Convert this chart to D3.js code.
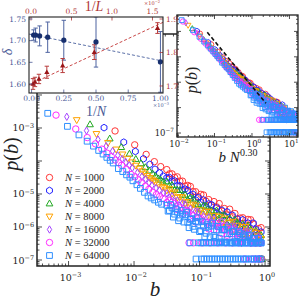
<!DOCTYPE html>
<html><head><meta charset="utf-8">
<script src="https://cdn.jsdelivr.net/npm/d3@7"></script>
<style>body{margin:0;background:#fff}svg{display:block}</style>
</head><body><svg id="c" width="300" height="300"></svg>
<script>
// ================= DATA (log10 values) =================
const sizes = [1000, 2000, 4000, 8000, 16000, 32000, 64000];
const sizeLabels = ["1000", "2000", "4000", "8000", "16000", "32000", "64000"];
const collapseExponent = 0.30;

// shared b positions (log10 b) of the dense part of every histogram
const denseLogB = [-1.50,-1.46,-1.42,-1.38,-1.34,-1.30,-1.26,-1.22,-1.18,-1.14,-1.10,-1.06,-1.02,-0.98,-0.94,-0.90,-0.86,-0.82,-0.78,-0.74,-0.70,-0.66,-0.62,-0.58,-0.54,-0.50,-0.46,-0.42,-0.38,-0.34,-0.30,-0.26,-0.22,-0.18,-0.14,-0.10,-0.06];
const denseLogB2 = [-1.48,-1.44,-1.40,-1.36,-1.32,-1.28,-1.24,-1.20,-1.16,-1.12,-1.08,-1.04,-1.00,-0.96,-0.92,-0.88,-0.84,-0.80,-0.76,-0.72,-0.68,-0.64,-0.60,-0.56,-0.52,-0.48,-0.44,-0.40,-0.36,-0.32,-0.28,-0.24,-0.20,-0.16,-0.12,-0.08];
// single-count floor levels (log10 p)
const floorLogP = [-6.97, -6.48];

// N = 1000
const leadLogB_1000 = [-2.29,-1.99,-1.815,-1.69,-1.593];
const leadLogP_1000 = [-3.09,-3.51,-3.80,-4.02,-4.17];
const denseLogP_1000 = [-4.26,-4.39,-4.39,-4.50,-4.48,-4.61,-4.61,-4.76,-4.74,-4.77,-4.93,-4.93,-5.08,-5.01,-5.03,-5.22,-5.17,-5.34,-5.23,-5.39,-5.29,-5.52,-5.44,-5.64,-5.46,-5.69,-5.59,-5.85,-5.73,-5.72,-5.97,-5.77,-5.78,-5.91,-6.18,-6.05,-6.02];
const floorLowLogB_1000 = [-0.05];
const floorHighLogB_1000 = [];
// N = 2000
const leadLogB_2000 = [-2.458,-2.157,-1.98,-1.856,-1.759,-1.68,-1.612,-1.554];
const leadLogP_2000 = [-2.99,-3.43,-3.71,-3.93,-4.10,-4.25,-4.36,-4.46];
const denseLogP_2000 = [-4.51,-4.50,-4.61,-4.60,-4.75,-4.75,-4.88,-4.85,-4.89,-5.05,-5.01,-5.18,-5.11,-5.25,-5.18,-5.39,-5.30,-5.32,-5.53,-5.42,-5.62,-5.49,-5.66,-5.54,-5.79,-5.64,-5.90,-5.76,-5.97,-5.78,-6.03,-5.88,-6.18,-5.88,-6.07,-6.27,-6.15];
const floorLowLogB_2000 = [];
const floorHighLogB_2000 = [-0.07];
// N = 4000
const leadLogB_4000 = [-2.672,-2.371,-2.195,-2.07,-1.973,-1.894,-1.827,-1.769,-1.718,-1.672,-1.63,-1.593,-1.558];
const leadLogP_4000 = [-2.89,-3.32,-3.58,-3.78,-3.94,-4.07,-4.19,-4.29,-4.38,-4.46,-4.53,-4.57,-4.63];
const denseLogP_4000 = [-4.62,-4.74,-4.73,-4.88,-4.87,-4.88,-5.04,-5.02,-5.18,-5.11,-5.14,-5.32,-5.30,-5.47,-5.35,-5.36,-5.56,-5.50,-5.68,-5.50,-5.73,-5.65,-5.64,-5.90,-5.73,-5.99,-5.78,-5.87,-6.10,-5.91,-6.21,-5.96,-6.08,-6.32,-6.11,-6.45,-6.25];
const floorLowLogB_4000 = [-0.08,-0.05];
const floorHighLogB_4000 = [-0.09];
// N = 8000
const leadLogB_8000 = [-2.875,-2.574,-2.398,-2.273,-2.176,-2.097,-2.03,-1.972,-1.921,-1.875,-1.834,-1.796,-1.761,-1.729,-1.699,-1.671,-1.62,-1.574,-1.533];
const leadLogP_8000 = [-2.76,-3.18,-3.45,-3.65,-3.80,-3.93,-4.04,-4.14,-4.23,-4.31,-4.38,-4.45,-4.51,-4.56,-4.60,-4.64,-4.71,-4.78,-4.82];
const denseLogP_8000 = [-4.89,-4.85,-4.99,-4.95,-5.11,-5.09,-5.10,-5.28,-5.24,-5.41,-5.32,-5.35,-5.56,-5.49,-5.68,-5.53,-5.54,-5.77,-5.66,-5.88,-5.69,-5.91,-5.74,-6.01,-5.87,-5.84,-6.14,-5.96,-6.23,-6.00,-6.00,-6.33,-6.13,-6.44,-6.17,-6.28,-6.36];
const floorLowLogB_8000 = [-0.10,-0.06];
const floorHighLogB_8000 = [-0.12,-0.07];
// N = 16000
const leadLogB_16000 = [-3.027,-2.726,-2.55,-2.425,-2.328,-2.249,-2.182,-2.124,-2.073,-2.027,-1.948,-1.881,-1.823,-1.772,-1.726,-1.665,-1.612,-1.55];
const leadLogP_16000 = [-2.66,-3.08,-3.35,-3.55,-3.70,-3.83,-3.94,-4.04,-4.13,-4.21,-4.35,-4.47,-4.55,-4.66,-4.74,-4.82,-4.89,-4.97];
const denseLogP_16000 = [-4.98,-5.11,-5.07,-5.23,-5.20,-5.35,-5.28,-5.31,-5.50,-5.45,-5.63,-5.52,-5.54,-5.77,-5.67,-5.87,-5.70,-5.89,-5.74,-5.99,-5.86,-5.83,-6.11,-5.95,-6.20,-5.98,-5.98,-6.29,-6.12,-6.39,-6.14,-6.13,-6.48,-6.26,-6.48,-6.29,-6.45];
const floorLowLogB_16000 = [-0.15,-0.09];
const floorHighLogB_16000 = [-0.36,-0.20,-0.08];
// N = 32000
const leadLogB_32000 = [-3.191,-2.89,-2.714,-2.589,-2.492,-2.413,-2.346,-2.288,-2.237,-2.191,-2.112,-2.045,-1.987,-1.936,-1.89,-1.829,-1.776,-1.714,-1.66,-1.611,-1.558];
const leadLogP_32000 = [-2.61,-3.03,-3.29,-3.48,-3.64,-3.76,-3.87,-3.97,-4.05,-4.13,-4.26,-4.41,-4.48,-4.57,-4.66,-4.77,-4.86,-4.95,-5.02,-5.08,-5.14];
const denseLogP_32000 = [-5.26,-5.20,-5.35,-5.29,-5.47,-5.42,-5.59,-5.50,-5.52,-5.73,-5.66,-5.85,-5.72,-5.74,-5.97,-5.85,-6.06,-5.87,-6.08,-5.90,-5.99,-6.20,-5.98,-6.25,-6.10,-6.06,-6.37,-6.18,-6.15,-6.46,-6.25,-6.22,-6.48,-6.36,-6.48,-6.37,-6.48];
const floorLowLogB_32000 = [-0.31,-0.19,-0.11,-0.07];
const floorHighLogB_32000 = [-1.16,-1.09,-0.96,-0.84,-0.72,-0.60,-0.50,-0.40,-0.28,-0.16,-0.08];
// N = 64000
const leadLogB_64000 = [-3.318,-3.017,-2.841,-2.716,-2.619,-2.54,-2.473,-2.415,-2.364,-2.318,-2.239,-2.172,-2.114,-2.063,-2.017,-1.956,-1.903,-1.841,-1.786,-1.738,-1.685,-1.628,-1.578];
const leadLogP_64000 = [-2.555,-2.95,-3.21,-3.40,-3.55,-3.68,-3.79,-3.89,-3.98,-4.06,-4.23,-4.32,-4.42,-4.49,-4.60,-4.72,-4.83,-4.95,-5.06,-5.12,-5.18,-5.25,-5.31];
const denseLogP_64000 = [-5.34,-5.50,-5.42,-5.61,-5.55,-5.73,-5.61,-5.63,-5.86,-5.77,-5.98,-5.83,-5.85,-6.11,-5.97,-6.19,-5.98,-5.97,-6.26,-6.09,-6.34,-6.09,-6.08,-6.37,-6.20,-6.14,-6.43,-6.26,-6.20,-6.48,-6.30,-6.26,-6.48,-6.35,-6.48,-6.34,-6.48];
const dense2LogP_64000 = [-5.52,-5.32,-5.70,-5.45,-5.81,-5.50,-5.85,-5.55,-6.02,-5.75,-6.07,-5.72,-6.14,-5.84,-6.29,-5.93,-6.30,-5.88,-6.31,-5.98,-6.45,-6.08,-6.46,-6.00,-6.48,-6.12,-6.48,-6.14,-6.48,-6.24,-6.48,-6.24,-6.48,-6.35,-6.48,-6.45];
const floorLowLogB_64000 = [-1.053,-0.97,-0.93,-0.89,-0.85,-0.81,-0.77,-0.73,-0.69,-0.65,-0.61,-0.57,-0.53,-0.49,-0.45,-0.41,-0.37,-0.33,-0.29,-0.25,-0.21,-0.17,-0.13,-0.09,-0.06];
const floorHighLogB_64000 = [-1.145,-1.02,-0.98,-0.94,-0.90,-0.86,-0.82,-0.78,-0.74,-0.70,-0.66,-0.62,-0.58,-0.54,-0.50,-0.46,-0.42,-0.38,-0.34,-0.30,-0.26,-0.22,-0.18,-0.14,-0.10,-0.06];

// inset 2 reference dashed line (slope guide)
const guideX = [0.0643, 2.36];
const guideY = [9.2e-4, 1.48e-6];

// inset 1: exponent vs system size
const invN = [0.015625, 0.03125, 0.0625, 0.125, 0.25, 0.5, 1.0];       // x 1e-3
const deltaN = [1.713, 1.713, 1.711, 1.708, 1.701, 1.697, 1.651];
const deltaNErr = [0.012, 0.016, 0.023, 0.035, 0.046, 0.058, 0.07];
const invL = [0.0244, 0.0488, 0.0977, 0.1953, 0.3906, 0.78125, 1.5625]; // x 1e-2
const deltaL = [1.706, 1.712, 1.721, 1.741, 1.761, 1.801, 1.873];
const deltaLErr = [0.016, 0.014, 0.014, 0.018, 0.021, 0.022, 0.016];
const fitNx = [-0.02, 1.02], fitNy = [1.7152, 1.6528];
const fitLx = [-0.025, 1.63], fitLy = [1.703, 1.890];

// ticks
const mainXTicks = [1e-3, 1e-2, 1e-1, 1];
const mainYTicks = [1e-7, 1e-6, 1e-5, 1e-4, 1e-3, 1e-2, 1e-1];
const mainYLabels = [1e-7, 1e-6, 1e-5, 1e-3];
const insXTicks = [1e-2, 1e-1, 1, 10];
const insYTicks = [1e-7, 1e-6, 1e-5, 1e-4, 1e-3];
const insYLabels = [1e-7];
const invNTicks = [0, 0.25, 0.5, 0.75, 1.0];
const invNTickLabels = ["0.00", "0.25", "0.50", "0.75", "1.00"];
const invLTicks = [0, 0.5, 1.0, 1.5];
const invLTickLabels = ["0.0", "0.5", "1.0", "1.5"];
const deltaNTicks = [1.60, 1.65, 1.70, 1.75];
const deltaNTickLabels = ["1.60", "1.65", "1.70", "1.75"];
const deltaLTicks = [1.7, 1.8, 1.9];
const deltaLTickLabels = ["1.7", "1.8", "1.9"];

// ================= STYLE =================
const colors = ['#ff3535', '#2222ff', '#22a822', '#ffa200', '#a445ff', '#ff2cff', '#2f8fff'];
const shapes = ['circle', 'hexagon', 'triangleUp', 'triangleDown', 'thinDiamond', 'circle', 'square'];
const blueAx = '#4a5a96', redAx = '#b03636';
const SERIF = "'Liberation Serif','Times New Roman',serif";
const NUMF = "'DejaVu Serif',serif";

const series = sizes.map((N, i) => ({
  N, color: colors[i], shape: shapes[i], label: sizeLabels[i],
  lb: [leadLogB_1000, leadLogB_2000, leadLogB_4000, leadLogB_8000, leadLogB_16000, leadLogB_32000, leadLogB_64000][i],
  lp: [leadLogP_1000, leadLogP_2000, leadLogP_4000, leadLogP_8000, leadLogP_16000, leadLogP_32000, leadLogP_64000][i],
  dp: [denseLogP_1000, denseLogP_2000, denseLogP_4000, denseLogP_8000, denseLogP_16000, denseLogP_32000, denseLogP_64000][i],
  d2: i === 6 ? dense2LogP_64000 : null,
  fl: [floorLowLogB_1000, floorLowLogB_2000, floorLowLogB_4000, floorLowLogB_8000, floorLowLogB_16000, floorLowLogB_32000, floorLowLogB_64000][i],
  fh: [floorHighLogB_1000, floorHighLogB_2000, floorHighLogB_4000, floorHighLogB_8000, floorHighLogB_16000, floorHighLogB_32000, floorHighLogB_64000][i]
}));
function points(s) {
  const out = [];
  s.lb.forEach((b, i) => out.push([10 ** b, 10 ** s.lp[i]]));
  denseLogB.forEach((b, i) => out.push([10 ** b, 10 ** s.dp[i]]));
  if (s.d2) denseLogB2.forEach((b, i) => out.push([10 ** b, 10 ** s.d2[i]]));
  s.fh.forEach(b => out.push([10 ** b, 10 ** floorLogP[1]]));
  s.fl.forEach(b => out.push([10 ** b, 10 ** floorLogP[0]]));
  return out;
}
function shapePath(shape, s) {
  switch (shape) {
    case 'circle': return `M${s},0A${s},${s},0,1,1,${-s},0A${s},${s},0,1,1,${s},0Z`;
    case 'square': { const h = s * 0.9; return `M${-h},${-h}H${h}V${h}H${-h}Z`; }
    case 'triangleUp': return `M0,${-s*1.1}L${s*1.05},${s*0.75}L${-s*1.05},${s*0.75}Z`;
    case 'triangleDown': return `M0,${s*1.1}L${s*1.05},${-s*0.75}L${-s*1.05},${-s*0.75}Z`;
    case 'thinDiamond': return `M0,${-s*1.15}L${s*0.68},0L0,${s*1.15}L${-s*0.68},0Z`;
    case 'hexagon': {
      const r = s * 1.05; let d = '';
      for (let k = 0; k < 6; k++) { const a = (-90 + 60 * k) * Math.PI / 180; d += (k ? 'L' : 'M') + (r * Math.cos(a)).toFixed(2) + ',' + (r * Math.sin(a)).toFixed(2); }
      return d + 'Z';
    }
  }
}
const svg = d3.select('#c');
const defs = svg.append('defs');

function powLabel(parent, v, x, y, anchor, size, color) {
  const e = Math.round(Math.log10(v));
  const t = parent.append('text').attr('x', x).attr('y', y).attr('text-anchor', anchor)
    .attr('font-family', NUMF).attr('font-size', size).attr('fill', color || '#222');
  t.append('tspan').text('10');
  t.append('tspan').attr('dy', -size * 0.42).attr('font-size', size * 0.68).text(String(e).replace('-', '\u2212'));
  return t;
}
function minorsFor(lo, hi) {
  const out = [];
  for (let d = Math.floor(Math.log10(lo)) - 1; d <= Math.ceil(Math.log10(hi)); d++)
    for (let k = 2; k <= 9; k++) { const v = k * 10 ** d; if (v > lo && v < hi) out.push(v); }
  return out;
}
function logTicks(g, x, y, box, xMaj, yMaj, len) {
  const xm = minorsFor(...x.domain()), ym = minorsFor(...y.domain());
  const tk = g.append('g').attr('stroke', '#222').attr('stroke-width', 0.8);
  const xMajIn = xMaj.filter(v => v >= x.domain()[0] && v <= x.domain()[1]);
  const yMajIn = yMaj.filter(v => v >= y.domain()[0] && v <= y.domain()[1]);
  [[xMajIn, len], [xm, len * 0.5]].forEach(([vals, L]) => vals.forEach(v => {
    const px = x(v);
    tk.append('line').attr('x1', px).attr('x2', px).attr('y1', box.b).attr('y2', box.b - L);
    tk.append('line').attr('x1', px).attr('x2', px).attr('y1', box.t).attr('y2', box.t + L);
  }));
  [[yMajIn, len], [ym, len * 0.5]].forEach(([vals, L]) => vals.forEach(v => {
    const py = y(v);
    tk.append('line').attr('y1', py).attr('y2', py).attr('x1', box.l).attr('x2', box.l + L);
    tk.append('line').attr('y1', py).attr('y2', py).attr('x1', box.r).attr('x2', box.r - L);
  }));
}

// ================= MAIN PLOT =================
const M = { l: 37, r: 270, t: 34, b: 266 };
const x = d3.scaleLog().domain([3.3e-4, 1.19]).range([M.l, M.r]);
const y = d3.scaleLog().domain([6.58e-8, 0.705]).range([M.b, M.t]);
defs.append('clipPath').attr('id', 'clipMain').append('rect')
  .attr('x', M.l).attr('y', M.t).attr('width', M.r - M.l).attr('height', M.b - M.t);
const gm = svg.append('g');
const gmData = gm.append('g').attr('clip-path', 'url(#clipMain)');
series.forEach(s => {
  const d = shapePath(s.shape, 3.2);
  gmData.append('g').selectAll('path').data(points(s)).join('path')
    .attr('d', d).attr('transform', p => `translate(${x(p[0]).toFixed(2)},${y(p[1]).toFixed(2)})`)
    .attr('fill', 'none').attr('stroke', s.color).attr('stroke-width', 1);
});
logTicks(gm, x, y, M, mainXTicks, mainYTicks, 5);
gm.append('rect').attr('x', M.l).attr('y', M.t).attr('width', M.r - M.l).attr('height', M.b - M.t)
  .attr('fill', 'none').attr('stroke', '#222').attr('stroke-width', 1.5);
mainXTicks.forEach(v => powLabel(gm, v, x(v) + 2, 281, 'middle', 9.5));
mainYLabels.forEach(v => powLabel(gm, v, 34, y(v) + 3.5, 'end', 9.5));
gm.append('text').attr('x', 155).attr('y', 296).attr('text-anchor', 'middle')
  .attr('font-family', SERIF).attr('font-style', 'italic').attr('font-size', 21).attr('fill', '#222').text('b');
{
  const t = gm.append('text').attr('transform', 'translate(18,154) rotate(-90)').attr('text-anchor', 'middle')
    .attr('font-family', SERIF).attr('font-size', 20).attr('fill', '#222');
  t.append('tspan').attr('font-style', 'italic').text('p');
  t.append('tspan').text('(');
  t.append('tspan').attr('font-style', 'italic').text('b');
  t.append('tspan').text(')');
}
// legend
series.forEach((s, i) => {
  const ly = 177.5 + i * 13;
  gm.append('path').attr('d', shapePath(s.shape, 3.2)).attr('transform', `translate(49.5,${ly})`)
    .attr('fill', 'none').attr('stroke', s.color).attr('stroke-width', 1);
  const t = gm.append('text').attr('x', 65).attr('y', ly + 3.6).attr('font-family', SERIF)
    .attr('font-size', 10.5).attr('fill', '#222');
  t.append('tspan').attr('font-style', 'italic').text('N');
  t.append('tspan').text(' = ' + s.label);
});

// ================= RIGHT INSET (collapse) =================
const R = { l: 177, r: 298, t: 15, b: 137 };
const xi = d3.scaleLog().domain([0.01, 16.9]).range([R.l, R.r]);
const yi = d3.scaleLog().domain([6.97e-8, 4.43e-3]).range([R.b, R.t]);
const gr = svg.append('g');
gr.append('rect').attr('x', R.l).attr('y', R.t).attr('width', R.r - R.l).attr('height', R.b - R.t).attr('fill', '#fff');
defs.append('clipPath').attr('id', 'clipIns').append('rect')
  .attr('x', R.l).attr('y', R.t).attr('width', R.r - R.l).attr('height', R.b - R.t);
const grData = gr.append('g').attr('clip-path', 'url(#clipIns)');
series.forEach(s => {
  const f = Math.pow(s.N, collapseExponent);
  const d = shapePath(s.shape, 2.7);
  grData.append('g').selectAll('path').data(points(s)).join('path')
    .attr('d', d).attr('transform', p => `translate(${xi(p[0] * f).toFixed(2)},${yi(p[1]).toFixed(2)})`)
    .attr('fill', 'none').attr('stroke', s.color).attr('stroke-width', 0.9);
});
grData.append('line').attr('x1', xi(guideX[0])).attr('y1', yi(guideY[0])).attr('x2', xi(guideX[1])).attr('y2', yi(guideY[1]))
  .attr('stroke', '#111').attr('stroke-width', 1.6).attr('stroke-dasharray', '4,2.5');
logTicks(gr, xi, yi, R, insXTicks, insYTicks, 4);
gr.append('rect').attr('x', R.l).attr('y', R.t).attr('width', R.r - R.l).attr('height', R.b - R.t)
  .attr('fill', 'none').attr('stroke', '#222').attr('stroke-width', 1.3);
insXTicks.forEach(v => powLabel(gr, v, xi(v) + 2, 146.5, 'middle', 8.5));
insYLabels.forEach(v => powLabel(gr, v, 174, yi(v) + 3, 'end', 8.5));
{
  const t = gr.append('text').attr('transform', 'translate(197,80) rotate(-90)').attr('text-anchor', 'middle')
    .attr('font-family', SERIF).attr('font-size', 16).attr('fill', '#222');
  t.append('tspan').attr('font-style', 'italic').text('p');
  t.append('tspan').text('(');
  t.append('tspan').attr('font-style', 'italic').text('b');
  t.append('tspan').text(')');
  const u = gr.append('text').attr('x', 238).attr('y', 162).attr('text-anchor', 'middle')
    .attr('font-family', SERIF).attr('font-size', 15).attr('fill', '#222');
  u.append('tspan').attr('font-style', 'italic').text('b N');
  u.append('tspan').attr('dy', -6).attr('font-size', 10).text('0.30');
}

// ================= TOP-LEFT INSET (exponents) =================
const T = { l: 29, r: 163, t: 17, b: 93 };
const xN = d3.scaleLinear().domain([-0.02, 1.02]).range([T.l, T.r]);
const xL = d3.scaleLinear().domain([-0.025, 1.63]).range([T.l, T.r]);
const yN = d3.scaleLinear().domain([1.5792, 1.7546]).range([T.b, T.t]);
const yL = d3.scaleLinear().domain([1.679, 1.906]).range([T.b, T.t]);
const gt = svg.append('g');
gt.append('rect').attr('x', T.l).attr('y', T.t).attr('width', T.r - T.l).attr('height', T.b - T.t).attr('fill', '#fff');
defs.append('clipPath').attr('id', 'clipTL').append('rect')
  .attr('x', T.l).attr('y', T.t).attr('width', T.r - T.l).attr('height', T.b - T.t);
const gtd = gt.append('g').attr('clip-path', 'url(#clipTL)');
gtd.append('line').attr('x1', xN(fitNx[0])).attr('y1', yN(fitNy[0])).attr('x2', xN(fitNx[1])).attr('y2', yN(fitNy[1]))
  .attr('stroke', '#5b70a8').attr('stroke-width', 1).attr('stroke-dasharray', '3,2');
gtd.append('line').attr('x1', xL(fitLx[0])).attr('y1', yL(fitLy[0])).attr('x2', xL(fitLx[1])).attr('y2', yL(fitLy[1]))
  .attr('stroke', '#c84848').attr('stroke-width', 1).attr('stroke-dasharray', '3,2');
function errbars(g, xs, ys, es, sx, sy, col) {
  xs.forEach((v, i) => {
    const px = sx(v), y1 = sy(ys[i] - es[i]), y2 = sy(ys[i] + es[i]);
    g.append('line').attr('x1', px).attr('x2', px).attr('y1', y1).attr('y2', y2).attr('stroke', col).attr('stroke-width', 1);
    [y1, y2].forEach(yy => g.append('line').attr('x1', px - 2.2).attr('x2', px + 2.2).attr('y1', yy).attr('y2', yy).attr('stroke', col).attr('stroke-width', 1));
  });
}
errbars(gtd, invN, deltaN, deltaNErr, xN, yN, '#4d63a0');
errbars(gtd, invL, deltaL, deltaLErr, xL, yL, '#b83c3c');
invN.forEach((v, i) => gtd.append('circle').attr('cx', xN(v)).attr('cy', yN(deltaN[i])).attr('r', 2.6).attr('fill', '#172f6e'));
invL.forEach((v, i) => gtd.append('path').attr('d', shapePath('triangleUp', 2.5))
  .attr('transform', `translate(${xL(v)},${yL(deltaL[i])})`).attr('fill', '#9a1518'));
// ticks
const tkg = gt.append('g').attr('stroke-width', 0.8);
invNTicks.forEach(v => tkg.append('line').attr('x1', xN(v)).attr('x2', xN(v)).attr('y1', T.b).attr('y2', T.b - 3.5).attr('stroke', blueAx));
invLTicks.forEach(v => tkg.append('line').attr('x1', xL(v)).attr('x2', xL(v)).attr('y1', T.t).attr('y2', T.t + 3.5).attr('stroke', redAx));
deltaNTicks.forEach(v => tkg.append('line').attr('y1', yN(v)).attr('y2', yN(v)).attr('x1', T.l).attr('x2', T.l + 3.5).attr('stroke', blueAx));
deltaLTicks.forEach(v => tkg.append('line').attr('y1', yL(v)).attr('y2', yL(v)).attr('x1', T.r).attr('x2', T.r - 3.5).attr('stroke', redAx));
gt.append('rect').attr('x', T.l).attr('y', T.t).attr('width', T.r - T.l).attr('height', T.b - T.t)
  .attr('fill', 'none').attr('stroke', '#222').attr('stroke-width', 1.1);
const lab = (txt, px, py, anchor, col, size) => gt.append('text').attr('x', px).attr('y', py).attr('text-anchor', anchor)
  .attr('font-family', NUMF).attr('font-size', size || 7.5).attr('fill', col).text(txt);
invNTicks.forEach((v, i) => lab(invNTickLabels[i], xN(v), 101, 'middle', blueAx));
invLTicks.forEach((v, i) => lab(invLTickLabels[i], xL(v), 14, 'middle', redAx));
deltaNTicks.forEach((v, i) => lab(deltaNTickLabels[i], 26, yN(v) + 2.6, 'end', blueAx));
deltaLTicks.forEach((v, i) => lab(deltaLTickLabels[i], 166, yL(v) + 2.6, 'start', redAx));
function mult(px, py, exp, col) {
  const t = gt.append('text').attr('x', px).attr('y', py).attr('text-anchor', 'middle')
    .attr('font-family', NUMF).attr('font-size', 5).attr('fill', col);
  t.append('tspan').text('\u00d710');
  t.append('tspan').attr('dy', -2).attr('font-size', 3.6).text(exp);
}
mult(161, 107, '\u22123', blueAx);
mult(152, 5, '\u22122', redAx);
function fracLabel(px, py, letter, col, size) {
  const t = gt.append('text').attr('x', px).attr('y', py).attr('text-anchor', 'middle')
    .attr('font-family', SERIF).attr('font-size', size).attr('fill', col);
  t.append('tspan').text('1/');
  t.append('tspan').attr('font-style', 'italic').text(letter);
}
fracLabel(94, 10.5, 'L', redAx, 14);
fracLabel(96, 116, 'N', blueAx, 14);
gt.append('text').attr('transform', 'translate(12,52) rotate(-90)').attr('text-anchor', 'middle')
  .attr('font-family', SERIF).attr('font-style', 'italic').attr('font-size', 14).attr('fill', blueAx).text('\u03b4');
</script>
</body></html>
